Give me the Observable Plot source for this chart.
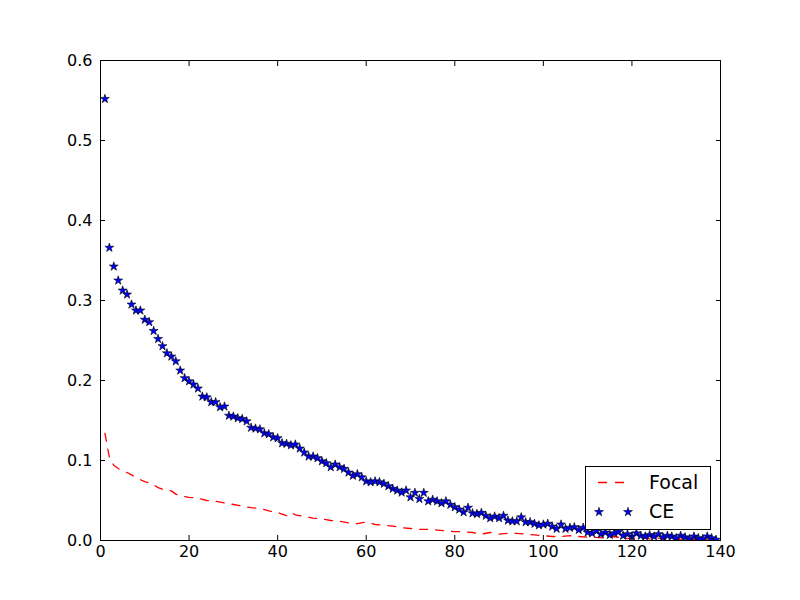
<!DOCTYPE html>
<html><head><meta charset="utf-8">
<script src="https://cdn.jsdelivr.net/npm/d3@7"></script>
<script src="https://cdn.jsdelivr.net/npm/@observablehq/plot@0.6"></script>
<style>body{margin:0;background:#fff}#chart{position:relative;width:800px;height:600px}</style>
</head><body><div id="chart"></div>
<script>
// CE values for epochs 1..139
const ceValues = [
0.552,0.366,0.3425,0.325,0.3125,0.3075,0.295,0.2875,0.2875,0.276,
0.273,0.262,0.252,0.243,0.234,0.230,0.224,0.2125,0.203,0.199,
0.195,0.190,0.180,0.179,0.173,0.173,0.1667,0.1675,0.156,0.155,
0.153,0.152,0.149,0.141,0.140,0.139,0.134,0.133,0.129,0.128,
0.1217,0.121,0.119,0.120,0.115,0.110,0.105,0.105,0.103,0.099,
0.0967,0.0917,0.095,0.0917,0.0896,0.085,0.081,0.083,0.079,0.074,
0.073,0.074,0.073,0.071,0.068,0.0646,0.0625,0.060,0.0625,0.054,
0.0596,0.052,0.0596,0.049,0.051,0.049,0.0467,0.049,0.0446,0.0417,
0.0387,0.0354,0.041,0.034,0.0333,0.0346,0.031,0.028,0.030,0.028,
0.031,0.025,0.024,0.024,0.029,0.023,0.023,0.021,0.019,0.020,
0.021,0.0175,0.0146,0.020,0.0146,0.016,0.0167,0.0133,0.016,0.010,
0.009,0.012,0.008,0.010,0.007,0.009,0.011,0.006,0.008,0.005,
0.009,0.006,0.005,0.007,0.005,0.008,0.004,0.006,0.005,0.003,
0.006,0.004,0.002,0.005,0.003,0.002,0.005,0.003,0.001
];
const focalEpochs = [1,2,3,4,5,6,7,8,9,10,11,12,13,14,15,16,17,18,19,20,22,24,26,28,30,32,34,36,38,40,41,42,43,44,46,48,50,52,54,56,58,60,62,64,66,68,70,72,74,76,78,80,82,84,86,88,90,92,94,96,98,100,102,104,106,108,110,112,114,116,118,120,122,124,126,128,130,132,134,136,138,139];
const focalValues = [0.134,0.104,0.094,0.090,0.087,0.085,0.082,0.079,0.076,0.0735,0.072,0.070,0.066,0.064,0.063,0.062,0.058,0.056,0.055,0.054,0.053,0.050,0.049,0.047,0.045,0.043,0.041,0.040,0.037,0.035,0.033,0.031,0.035,0.032,0.030,0.028,0.027,0.025,0.024,0.022,0.021,0.023,0.020,0.019,0.018,0.016,0.015,0.014,0.014,0.013,0.012,0.011,0.011,0.010,0.008,0.010,0.008,0.009,0.009,0.008,0.007,0.006,0.005,0.005,0.006,0.005,0.004,0.004,0.003,0.005,0.003,0.002,0.004,0.002,0.003,0.002,0.001,0.002,0.001,0.001,0.000,0.000];
const xTicks = [0,20,40,60,80,100,120,140];
const yTicks = [0,0.1,0.2,0.3,0.4,0.5,0.6];
const seriesNames = ["Focal","CE"];

const ce = ceValues.map((v,i)=>({epoch:i+1, loss:v}));
const focal = focalEpochs.map((e,i)=>({epoch:e, loss:focalValues[i]}));
const yFmt = d3.format(".1f");

const chart = Plot.plot({
  width:800, height:600, marginLeft:100, marginRight:80, marginTop:60, marginBottom:60,
  style:{fontFamily:"DejaVu Sans", fontSize:"16px", background:"white", color:"black", overflow:"visible"},
  x:{domain:[0,140], label:null},
  y:{domain:[0,0.6], label:null},
  marks:[
    Plot.line(focal,{x:"epoch",y:"loss",stroke:"red",strokeWidth:1.3,strokeDasharray:"8,8",clip:true}),
    Plot.dot(ce,{x:"epoch",y:"loss",symbol:"star",r:2.8,fill:"#0000ff",stroke:"black",strokeWidth:0.6,clip:true}),
    Plot.axisX({ticks:xTicks,anchor:"bottom",tickSize:0,tickPadding:5,tickFormat:d=>String(d),label:null,fill:"black"}),
    Plot.axisX({ticks:xTicks,anchor:"bottom",tickSize:5,dy:-5,tickFormat:()=>"",label:null,stroke:"black"}),
    Plot.axisX({ticks:xTicks,anchor:"top",tickSize:5,dy:5,tickFormat:()=>"",label:null,stroke:"black"}),
    Plot.axisY({ticks:yTicks,anchor:"left",tickSize:0,tickPadding:8,tickFormat:yFmt,label:null,fill:"black"}),
    Plot.axisY({ticks:yTicks,anchor:"left",tickSize:5,dx:5,tickFormat:()=>"",label:null,stroke:"black"}),
    Plot.axisY({ticks:yTicks,anchor:"right",tickSize:5,dx:-5,tickFormat:()=>"",label:null,stroke:"black"}),
    Plot.frame({stroke:"black",strokeWidth:1})
  ]
});
document.getElementById("chart").appendChild(chart);

// Legend (lower right, matplotlib style)
const svg = d3.select(chart);
const lg = svg.append("g").attr("font-family","DejaVu Sans").attr("font-size","19px").attr("text-anchor","start");
const bx = 585.5, by = 466.5, bw = 125, bh = 63;
lg.append("rect").attr("x",bx).attr("y",by).attr("width",bw).attr("height",bh)
  .attr("fill","white").attr("stroke","black").attr("stroke-width",1);
lg.append("line").attr("x1",598).attr("x2",628).attr("y1",482.5).attr("y2",482.5)
  .attr("stroke","red").attr("stroke-width",1.3).attr("stroke-dasharray","9,8");
const starPath = d3.symbol(d3.symbolStar, Math.PI*2.8*2.8)();
[599,628].forEach(cx=>{
  lg.append("path").attr("d",starPath).attr("transform",`translate(${cx},512)`)
    .attr("fill","#0000ff").attr("stroke","black").attr("stroke-width",0.6);
});
lg.append("text").attr("x",649).attr("y",489).attr("fill","black").text(seriesNames[0]);
lg.append("text").attr("x",649).attr("y",518).attr("fill","black").text(seriesNames[1]);
</script>
</body></html>
